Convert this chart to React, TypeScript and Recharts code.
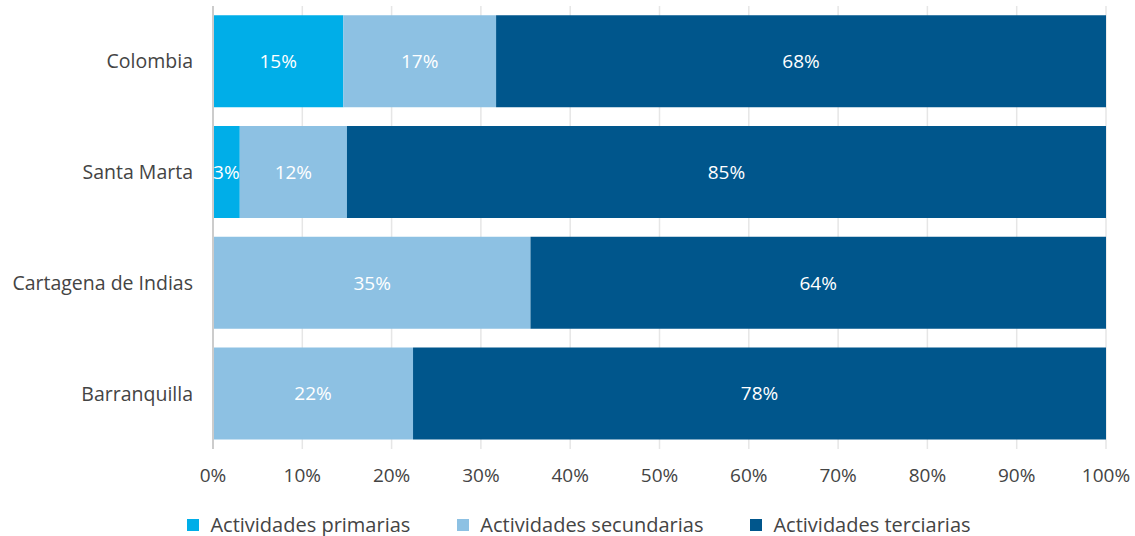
import React from 'react';
import { BarChart, Bar, XAxis, YAxis, CartesianGrid, Legend, LabelList } from 'recharts';

const categories = ['Colombia', 'Santa Marta', 'Cartagena de Indias', 'Barranquilla'];
const primarias = [14.6, 3.0, 0.1, 0];
const secundarias = [17.1, 12.0, 35.45, 22.4];
const terciarias = [68.3, 85.0, 64.45, 77.6];
const xTicks = [0, 10, 20, 30, 40, 50, 60, 70, 80, 90, 100];

const seriesNames = ['Actividades primarias', 'Actividades secundarias', 'Actividades terciarias'];
const colors = ['#00AEE8', '#8DC1E3', '#00568C'];

const data = categories.map((c, i) => ({
  name: c,
  p: primarias[i],
  s: secundarias[i],
  t: terciarias[i],
}));

const FONT = '"Open Sans", sans-serif';
const TEXT = '#444444';

const fmt = (v: any) => (typeof v === 'number' && v >= 1 ? `${Math.round(v)}%` : '');

const LegendContent = () => (
  <div style={{ height: 37, display: 'flex', justifyContent: 'center', alignItems: 'flex-end', fontFamily: FONT, fontSize: 20, color: TEXT, paddingLeft: 52 }}>
    {seriesNames.map((n, i) => (
      <div key={n} style={{ display: 'flex', alignItems: 'center', marginRight: i < 2 ? 47 : 0, lineHeight: '24px', marginBottom: -1 }}>
        <span style={{ display: 'inline-block', width: 12, height: 12, background: colors[i], marginRight: 11 }} />
        <span>{n}</span>
      </div>
    ))}
  </div>
);

export default function App() {
  return (
    <div style={{ position: 'absolute', left: 0, top: 0, width: 1135, height: 536, background: '#fff' }}>
      <BarChart
        width={1135}
        height={536}
        data={data}
        layout="vertical"
        margin={{ top: 6, right: 29, left: 0, bottom: 0 }}
        barCategoryGap="8.4%"
      >
        <CartesianGrid horizontal={false} stroke="#e6e6e6" strokeWidth={1.5} />
        <XAxis
          type="number"
          domain={[0, 100]}
          ticks={xTicks}
          tickFormatter={(v: number) => `${v}%`}
          axisLine={false}
          tickLine={false}
          tickSize={0}
          tickMargin={20}
          height={50}
          interval={0}
          tick={{ fill: TEXT, fontSize: 19, fontFamily: FONT }}
        />
        <YAxis
          type="category"
          dataKey="name"
          width={213}
          axisLine={{ stroke: '#cccccc', strokeWidth: 2 }}
          tickLine={false}
          tickSize={0}
          tickMargin={20}
          tick={{ fill: TEXT, fontSize: 19.5, fontFamily: FONT }}
        />
        <Legend verticalAlign="bottom" height={37} content={<LegendContent />} />
        <Bar dataKey="p" stackId="a" fill={colors[0]} isAnimationActive={false} name={seriesNames[0]}>
          <LabelList dataKey="p" position="center" fill="#fff" fontSize={19} fontFamily={FONT} formatter={fmt} />
        </Bar>
        <Bar dataKey="s" stackId="a" fill={colors[1]} isAnimationActive={false} name={seriesNames[1]}>
          <LabelList dataKey="s" position="center" fill="#fff" fontSize={19} fontFamily={FONT} formatter={fmt} />
        </Bar>
        <Bar dataKey="t" stackId="a" fill={colors[2]} isAnimationActive={false} name={seriesNames[2]}>
          <LabelList dataKey="t" position="center" fill="#fff" fontSize={19} fontFamily={FONT} formatter={fmt} />
        </Bar>
      </BarChart>
    </div>
  );
}
